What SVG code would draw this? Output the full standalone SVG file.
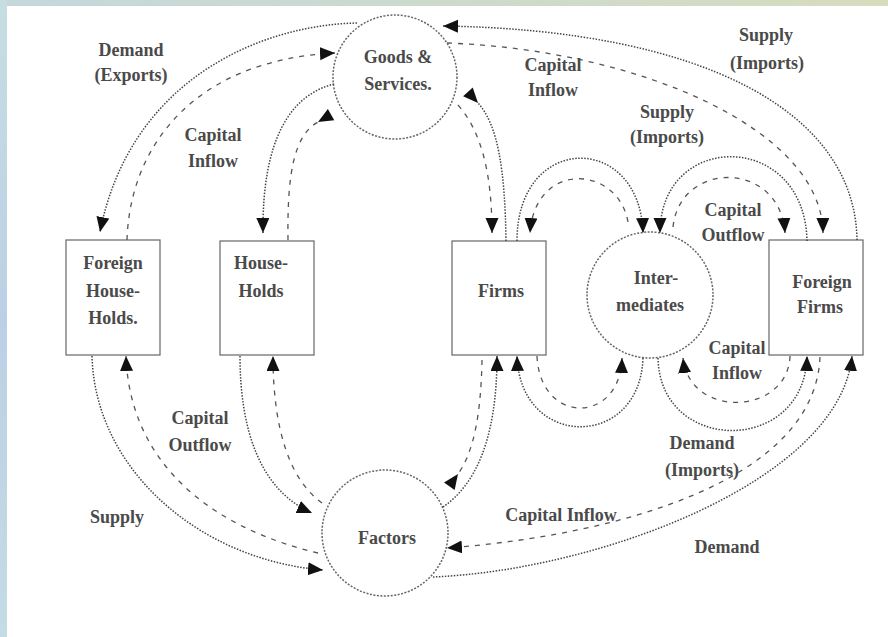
<svg xmlns="http://www.w3.org/2000/svg" width="888" height="637" viewBox="0 0 888 637">
<defs>
<linearGradient id="topg" x1="0" y1="0" x2="1" y2="0"><stop offset="0" stop-color="#c4d8dc"/><stop offset="1" stop-color="#d6dcbe"/></linearGradient>
<linearGradient id="leftg" x1="0" y1="0" x2="0" y2="1"><stop offset="0" stop-color="#c6dee2"/><stop offset="0.5" stop-color="#bcd0e4"/><stop offset="1" stop-color="#c4dce4"/></linearGradient>
<marker id="fwd" markerUnits="userSpaceOnUse" markerWidth="16" markerHeight="14" refX="15" refY="6.5" orient="auto"><path d="M0,0 L15,6.5 L0,13 z" fill="#111"/></marker>
<marker id="rev" markerUnits="userSpaceOnUse" markerWidth="16" markerHeight="14" refX="0" refY="6.5" orient="auto"><path d="M15,0 L0,6.5 L15,13 z" fill="#111"/></marker>
<style>
.t{font-family:"Liberation Serif","Times New Roman",serif;font-size:18px;font-weight:bold;fill:#4a4a4a;text-anchor:middle}
.box{fill:#fff;stroke:#666;stroke-width:1.2}
.circ{fill:#fff;stroke:#666;stroke-width:1.5;stroke-dasharray:2 1.5}
.dot{fill:none;stroke:#444;stroke-width:1.5;stroke-dasharray:1.5 1.5}
.dash{fill:none;stroke:#555;stroke-width:1.3;stroke-dasharray:5 6}
</style>
</defs>
<rect x="0" y="0" width="888" height="637" fill="#fff"/>
<rect x="0" y="0" width="888" height="6" fill="url(#topg)"/>
<rect x="0" y="0" width="7" height="637" fill="url(#leftg)"/>

<g id="goods"><circle class="circ" cx="395" cy="77" r="62"/><text class="t" x="398" y="63">Goods &amp;</text><text class="t" x="398" y="90">Services.</text></g>
<g id="foreign-households"><rect class="box" x="66" y="240" width="94" height="115"/><text class="t" x="113" y="269">Foreign</text><text class="t" x="113" y="297">House-</text><text class="t" x="113" y="324">Holds.</text></g>
<g id="households"><rect class="box" x="220" y="241" width="94" height="114"/><text class="t" x="261" y="269">House-</text><text class="t" x="261" y="297">Holds</text></g>
<g id="firms"><rect class="box" x="452" y="241" width="94" height="114"/><text class="t" x="501" y="297">Firms</text></g>
<g id="intermediates"><circle class="circ" cx="650" cy="295" r="63"/><text class="t" x="656" y="284">Inter-</text><text class="t" x="650" y="311">mediates</text></g>
<g id="foreign-firms"><rect class="box" x="769" y="240" width="94" height="115"/><text class="t" x="822" y="288">Foreign</text><text class="t" x="820" y="313">Firms</text></g>
<g id="factors"><circle class="circ" cx="385" cy="533" r="63"/><text class="t" x="387" y="544">Factors</text></g>

<g id="connectors">
<path class="dot" d="M357,23 C260,25 130,80 100,232" marker-end="url(#fwd)"/>
<path class="dash" d="M127,240 C130,145 195,60 335,53" marker-end="url(#fwd)"/>
<path class="dot" d="M334,84 C290,95 262,140 263,233" marker-end="url(#fwd)"/>
<path class="dash" d="M288,240 C287,170 295,135 318,122" marker-end="url(#rev)"/>
<path class="dash" d="M458,105 C480,130 492,170 492,233" marker-end="url(#fwd)"/>
<path class="dot" d="M506,241 C505,170 498,125 478,103" marker-end="url(#rev)"/>
<path class="dot" d="M857,240 C855,110 700,30 443,26" marker-end="url(#fwd)"/>
<path class="dash" d="M447,43 C640,50 822,130 823,233" marker-end="url(#fwd)"/>
<path class="dot" d="M517,241 C517,132 640,132 643,233" marker-end="url(#fwd)"/>
<path class="dash" d="M628,222 C618,165 535,160 530,233" marker-end="url(#fwd)"/>
<path class="dot" d="M807,241 C805,130 660,130 660,233" marker-end="url(#fwd)"/>
<path class="dash" d="M673,227 C680,160 780,160 785,233" marker-end="url(#fwd)"/>
<path class="dot" d="M643,358 C640,450 520,450 517,356" marker-end="url(#fwd)"/>
<path class="dash" d="M537,356 C540,425 620,425 622,358" marker-end="url(#fwd)"/>
<path class="dot" d="M658,358 C660,455 805,455 807,356" marker-end="url(#fwd)"/>
<path class="dash" d="M790,356 C788,415 690,420 683,358" marker-end="url(#fwd)"/>
<path class="dot" d="M433,577 C600,570 840,480 852,356" marker-end="url(#fwd)"/>
<path class="dash" d="M820,357 C815,480 620,535 447,548" marker-end="url(#fwd)"/>
<path class="dot" d="M443,507 C475,485 497,440 497,356" marker-end="url(#fwd)"/>
<path class="dash" d="M482,360 C481,410 475,450 458,474" marker-end="url(#rev)"/>
<path class="dot" d="M92,356 C95,470 200,560 323,570" marker-end="url(#fwd)"/>
<path class="dash" d="M318,553 C220,530 130,470 126,356" marker-end="url(#fwd)"/>
<path class="dot" d="M240,356 C240,430 260,490 312,513" marker-end="url(#fwd)"/>
<path class="dash" d="M322,503 C290,480 273,430 273,356" marker-end="url(#fwd)"/>
</g>

<g id="labels">
<text class="t" x="131" y="56">Demand</text><text class="t" x="131" y="81">(Exports)</text>
<text class="t" x="213" y="141">Capital</text><text class="t" x="213" y="167">Inflow</text>
<text class="t" x="553" y="71">Capital</text><text class="t" x="553" y="96">Inflow</text>
<text class="t" x="766" y="41">Supply</text><text class="t" x="767" y="69">(Imports)</text>
<text class="t" x="667" y="118">Supply</text><text class="t" x="667" y="143">(Imports)</text>
<text class="t" x="733" y="216">Capital</text><text class="t" x="733" y="241">Outflow</text>
<text class="t" x="737" y="354">Capital</text><text class="t" x="737" y="379">Inflow</text>
<text class="t" x="702" y="449">Demand</text><text class="t" x="702" y="476">(Imports)</text>
<text class="t" x="561" y="521">Capital Inflow</text>
<text class="t" x="727" y="553">Demand</text>
<text class="t" x="200" y="424">Capital</text><text class="t" x="200" y="451">Outflow</text>
<text class="t" x="117" y="523">Supply</text>
</g>
</svg>
